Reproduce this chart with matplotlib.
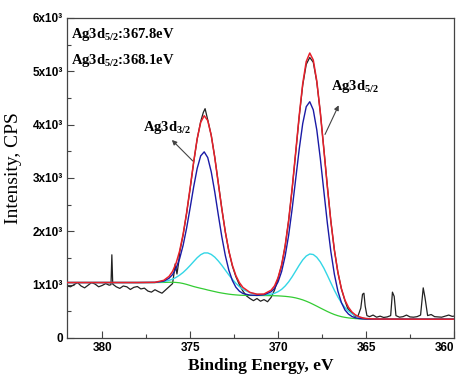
import matplotlib
matplotlib.use("Agg")
import matplotlib.pyplot as plt
from matplotlib.ticker import MultipleLocator, FixedLocator

# ---- data (binding energy in eV, intensity in CPS) ----
E_fit = [382, 380, 378, 377, 376.5, 376.2, 376.0, 375.8, 375.6, 375.4, 375.2, 375.0,
         374.8, 374.6, 374.4, 374.2, 374.0, 373.8, 373.6, 373.4, 373.2, 373.0,
         372.8, 372.6, 372.4, 372.2, 372.0, 371.6, 371.2, 370.8, 370.4, 370.2, 370.0,
         369.8, 369.6, 369.4, 369.2, 369.0, 368.8, 368.6, 368.4, 368.2, 368.0,
         367.8, 367.6, 367.4, 367.2, 367.0, 366.8, 366.6, 366.4, 366.2, 366.0,
         365.8, 365.6, 365.4, 365.2, 365.0, 364.5, 362, 360]

background = [1040, 1040, 1040, 1040, 1042, 1045, 1045, 1042, 1035, 1022, 1005, 985,
              965, 948, 932, 917, 900, 885, 870, 855, 843, 832,
              822, 814, 808, 803, 800, 798, 797, 796, 794, 792, 790,
              786, 781, 774, 765, 752, 735, 715, 690, 662, 630,
              597, 563, 530, 497, 467, 440, 418, 400, 387, 377,
              370, 364, 360, 357, 355, 354, 353, 353]

minor_comp = [1040, 1040, 1040, 1042, 1057, 1080, 1104, 1136, 1178, 1229, 1291, 1360,
              1433, 1505, 1562, 1595, 1595, 1567, 1516, 1445, 1363, 1273,
              1183, 1100, 1026, 963, 913, 849, 819, 810, 823, 839, 869,
              912, 974, 1053, 1149, 1256, 1365, 1464, 1537, 1575, 1565,
              1513, 1426, 1311, 1176, 1034, 895, 769, 660, 572, 504,
              453, 417, 392, 376, 365, 356, 353, 353]

main_comp = [1040, 1040, 1040, 1042, 1066, 1120, 1189, 1307, 1485, 1737, 2062, 2441,
             2833, 3179, 3415, 3490, 3383, 3116, 2738, 2311, 1900, 1547,
             1272, 1079, 952, 878, 835, 804, 799, 811, 866, 931, 1054,
             1246, 1535, 1927, 2423, 2979, 3538, 4020, 4337, 4430, 4277,
             3902, 3366, 2757, 2155, 1620, 1194, 878, 664, 526, 449,
             403, 379, 366, 359, 355, 354, 353, 353]

envelope = [1040, 1040, 1040, 1044, 1081, 1155, 1248, 1401, 1628, 1944, 2348, 2816,
            3301, 3736, 4045, 4168, 4078, 3798, 3384, 2901, 2420, 1988,
            1633, 1365, 1170, 1038, 948, 855, 821, 825, 895, 978, 1133,
            1372, 1728, 2206, 2807, 3483, 4168, 4769, 5184, 5343, 5212,
            4818, 4229, 3538, 2834, 2187, 1649, 1229, 924, 711, 576,
            486, 432, 398, 378, 365, 356, 353, 353]

E_raw = [382.0, 381.8, 381.6, 381.4, 381.2, 381.0, 380.8, 380.6, 380.4, 380.2, 380.0,
         379.8, 379.6, 379.5, 379.45, 379.4, 379.2, 379.0, 378.8, 378.6, 378.4, 378.2,
         378.0, 377.8, 377.6, 377.4, 377.2, 377.0, 376.8, 376.6, 376.4, 376.2, 376.0,
         375.9, 375.85, 375.75, 375.65, 375.6, 375.4, 375.2, 375.0, 374.8, 374.6, 374.4,
         374.25, 374.15, 374.0, 373.8, 373.6, 373.4, 373.2, 373.0, 372.8, 372.6, 372.4,
         372.2, 372.0, 371.8, 371.6, 371.4, 371.2, 371.0, 370.8, 370.6, 370.4, 370.2,
         370.0, 369.8, 369.6, 369.4, 369.2, 369.0, 368.8, 368.6, 368.4, 368.2, 368.0,
         367.8, 367.6, 367.4, 367.2, 367.0, 366.8, 366.6, 366.4, 366.2, 366.05,
         365.9, 365.75, 365.6, 365.45, 365.3, 365.2, 365.12, 365.05, 364.95, 364.8,
         364.6, 364.4, 364.2, 364.0, 363.8, 363.6, 363.5, 363.4, 363.3, 363.1, 362.9,
         362.7, 362.5, 362.3, 362.1, 361.9, 361.75, 361.65, 361.5, 361.3, 361.1,
         360.9, 360.7, 360.5, 360.3, 360.1, 360.0]
I_raw = [975, 960, 1000, 1040, 975, 940, 990, 1040, 1010, 960, 985,
         1020, 990, 1000, 1560, 1010, 960, 930, 975, 960, 910, 950,
         965, 920, 935, 880, 860, 905, 870, 840, 900, 960, 1020,
         1250, 1390, 1200, 1420, 1600, 1930, 2340, 2800, 3290, 3730, 4060,
         4230, 4300, 4090, 3800, 3390, 2910, 2430, 1990, 1630, 1350, 1150,
         1000, 880, 790, 740, 700, 740, 690, 720, 680, 760, 900,
         1120, 1360, 1720, 2200, 2800, 3470, 4150, 4740, 5130, 5260, 5170,
         4800, 4230, 3550, 2850, 2190, 1650, 1230, 920, 700, 560,
         500, 450, 400, 420, 560, 820, 840, 600, 420, 400,
         430, 390, 410, 385, 395, 420, 860, 780, 420, 390, 400,
         430, 395, 390, 400, 430, 940, 760, 420, 440, 400,
         395, 390, 410, 430, 405, 410]

x_ticks = [380, 375, 370, 365, 360]
x_ticklabels = ["380", "375", "370", "365", "360"]
y_ticks = [0, 1000, 2000, 3000, 4000, 5000, 6000]
y_ticklabels = ["0", "1x10\u00b3", "2x10\u00b3", "3x10\u00b3", "4x10\u00b3", "5x10\u00b3", "6x10\u00b3"]

# ---- figure ----
plt.rcParams['mathtext.fontset'] = 'custom'
plt.rcParams['mathtext.rm'] = 'Liberation Serif:bold'
plt.rcParams['mathtext.it'] = 'Liberation Serif:bold'
plt.rcParams['mathtext.bf'] = 'Liberation Serif:bold'

fig = plt.figure(figsize=(4.62, 3.74), dpi=100)
ax = fig.add_axes([67/462, 1-338/374, (454-67)/462, (338-18)/374])

ax.plot(E_raw, I_raw, color='#222222', lw=0.9, zorder=2)
ax.plot(E_fit, background, color='#33cc33', lw=0.9, zorder=3)
ax.plot(E_fit, minor_comp, color='#33d6e6', lw=1.0, zorder=4)
ax.plot(E_fit, main_comp, color='#1a1aa6', lw=1.0, zorder=5)
ax.plot(E_fit, envelope, color='#e8202a', lw=1.1, zorder=6)

ax.set_xlim(382, 360)
ax.set_ylim(0, 6000)

tick_font = dict(family=['Liberation Sans Narrow', 'Liberation Sans', 'DejaVu Sans'],
                 weight='bold', size=8.5)
ax.xaxis.set_major_locator(FixedLocator(x_ticks))
ax.xaxis.set_minor_locator(MultipleLocator(2.5))
ax.yaxis.set_major_locator(FixedLocator(y_ticks))
ax.yaxis.set_minor_locator(MultipleLocator(500))
ax.set_xticklabels(x_ticklabels, fontdict=tick_font)
ax.set_yticklabels(y_ticklabels, fontdict=tick_font)
ax.get_xticklabels()[-1].set_horizontalalignment('right')
ax.get_xticklabels()[-1].set_x(359.6)
ax.tick_params(which='both', direction='in', color='#444444', width=0.8)
ax.tick_params(which='major', length=5, pad=3)
ax.tick_params(which='minor', length=3)
for s in ax.spines.values():
    s.set_color('#444444')
    s.set_linewidth(0.9)

ax.set_xlabel('Binding Energy, eV', family='Liberation Serif', weight='bold', size=12.5, labelpad=3)
ax.set_ylabel('Intensity, CPS', family='Liberation Serif', size=14)
ax.yaxis.set_label_coords(-0.115, 0.53)

txt = dict(family='Liberation Serif', weight='bold', size=10.5)
ax.text(0.01, 0.975, r'Ag3d$_{\mathrm{5/2}}$:367.8eV', transform=ax.transAxes, va='top', **txt)
ax.text(0.01, 0.893, r'Ag3d$_{\mathrm{5/2}}$:368.1eV', transform=ax.transAxes, va='top', **txt)

ax.annotate(r'Ag3d$_{\mathrm{3/2}}$', xy=(377.7, 3950), xytext=(377.7, 3950),
            ha='left', va='center', **txt)
ax.annotate('', xy=(376.15, 3750), xytext=(374.73, 3280),
            arrowprops=dict(arrowstyle='-|>', color='#444444', lw=0.8, mutation_scale=7))
ax.annotate(r'Ag3d$_{\mathrm{5/2}}$', xy=(367.0, 4720), xytext=(367.0, 4720),
            ha='left', va='center', **txt)
ax.annotate('', xy=(366.49, 4410), xytext=(367.4, 3770),
            arrowprops=dict(arrowstyle='-|>', color='#444444', lw=0.8, mutation_scale=7))

fig.savefig('out.png', dpi=100)
